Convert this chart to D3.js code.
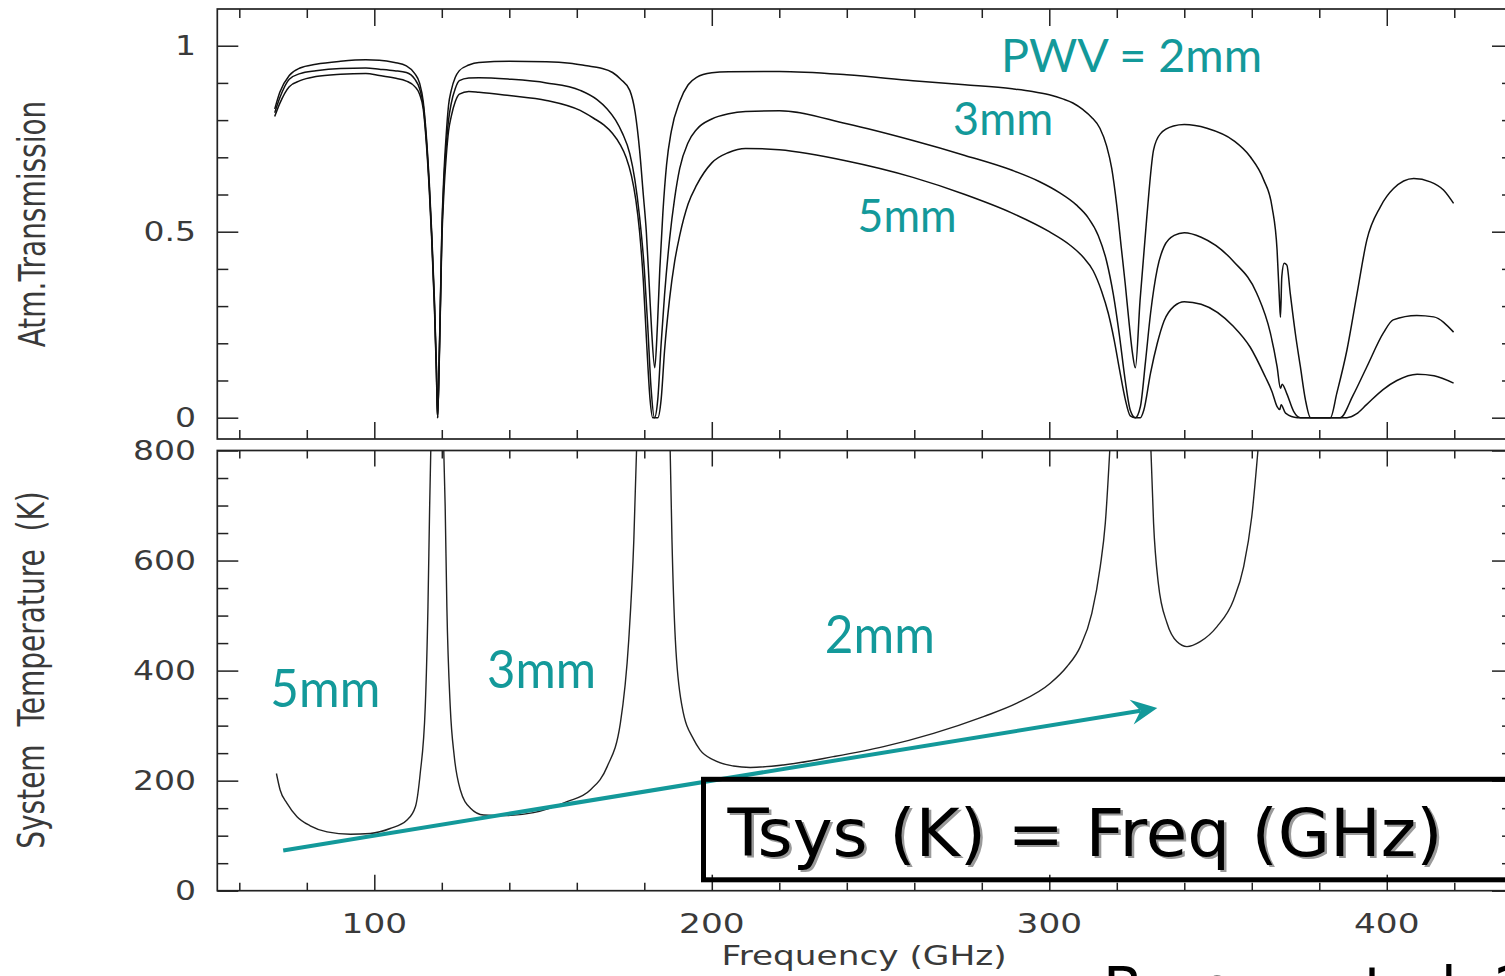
<!DOCTYPE html>
<html><head><meta charset="utf-8">
<script src="https://cdn.jsdelivr.net/npm/d3@7/dist/d3.min.js"></script>
<style>body{margin:0;background:#fff;overflow:hidden}svg{display:block}</style>
</head><body>
<svg id="chart" width="1505" height="976"></svg>
<script>
// ---------- DATA ----------
// Atmospheric transmission, [frequency GHz, transmission]
const trans2mm = [[70.5,0.83],[72,0.875],[74.8,0.92],[78,0.94],[82.7,0.95],[90,0.958],[97.5,0.962],[101.5,0.961],[106,0.955],[109.5,0.946],[112,0.925],[113.4,0.9],[114.5,0.85],[115.4,0.76],[116.3,0.63],[117,0.5],[117.8,0.32],[118.4,0.14],[118.75,0.0],[119.2,0.15],[119.6,0.32],[120,0.5],[120.6,0.65],[121.3,0.76],[122,0.84],[122.8,0.88],[124,0.915],[125.2,0.933],[128,0.948],[131,0.955],[140,0.958],[151,0.957],[158,0.953],[163,0.946],[167,0.94],[170.6,0.928],[173,0.91],[175.7,0.88],[177.3,0.82],[178.6,0.72],[179.7,0.6],[180.6,0.5],[181.5,0.35],[182.2,0.23],[183.1,0.134],[183.9,0.25],[184.6,0.4],[185.5,0.55],[186.6,0.68],[188,0.77],[190.5,0.85],[193,0.895],[195.5,0.915],[200,0.927],[205,0.93],[220,0.931],[240,0.922],[259.6,0.906],[275,0.895],[289,0.884],[295,0.877],[300,0.868],[304,0.857],[307,0.846],[310,0.828],[312.5,0.808],[315,0.778],[317,0.73],[318.5,0.67],[320,0.57],[321.3,0.46],[322.5,0.36],[323.7,0.25],[324.7,0.17],[325.5,0.134],[326.9,0.316],[328.9,0.54],[330.9,0.72],[332.9,0.763],[336.8,0.784],[340,0.788],[346.7,0.778],[354.6,0.745],[359.5,0.702],[363.5,0.64],[366,0.567],[367.5,0.45],[368.2,0.316],[368.5,0.27],[368.9,0.38],[369.6,0.415],[370.4,0.41],[371.4,0.334],[372.9,0.227],[374.4,0.137],[375.9,0.048],[377.4,0.0],[383.3,0.0],[385.2,0.066],[388.2,0.182],[391.2,0.334],[394.1,0.478],[398.1,0.567],[402,0.616],[408,0.643],[412.9,0.634],[416.8,0.612],[419.8,0.576]];
const trans3mm = [[70.5,0.82],[72,0.86],[74.8,0.91],[78,0.925],[82.7,0.933],[90,0.939],[97.5,0.94],[101.5,0.937],[106,0.933],[109.5,0.928],[112,0.91],[113.4,0.885],[114.5,0.84],[115.4,0.75],[116.3,0.62],[117,0.49],[117.8,0.31],[118.4,0.13],[118.75,0.0],[119.2,0.14],[119.6,0.31],[120,0.49],[120.6,0.63],[121.3,0.73],[122,0.8],[122.8,0.845],[124,0.885],[125.2,0.906],[128,0.913],[131,0.914],[140,0.91],[151,0.9],[161,0.88],[166,0.855],[169,0.83],[171.5,0.8],[173.5,0.765],[175.7,0.71],[177.2,0.64],[178.6,0.54],[180,0.4],[181,0.25],[182,0.08],[183,0.0],[184,0.05],[185,0.2],[186,0.33],[187.5,0.48],[189,0.59],[190.5,0.67],[193,0.74],[195.5,0.775],[200,0.803],[205,0.817],[210,0.823],[220,0.825],[240,0.79],[259.6,0.745],[275,0.705],[289,0.665],[297,0.635],[303,0.605],[308,0.572],[311.5,0.538],[314.5,0.49],[317,0.42],[319,0.33],[320.8,0.22],[322.5,0.1],[324,0.02],[325.5,0.0],[327,0.03],[328.5,0.15],[330,0.28],[332,0.4],[334,0.46],[337,0.49],[340,0.497],[345,0.485],[354.6,0.42],[361.5,0.334],[365.5,0.228],[367.5,0.137],[368.5,0.079],[369,0.09],[370.4,0.064],[372.4,0.017],[374.4,0.0],[386.2,0.0],[390,0.06],[394.1,0.137],[399,0.228],[401.9,0.263],[408.9,0.275],[413.9,0.271],[419.8,0.23]];
const trans5mm = [[70.5,0.81],[72,0.845],[74.8,0.89],[78,0.906],[82.7,0.917],[90,0.923],[97.5,0.925],[101.5,0.92],[106,0.913],[109.5,0.905],[112,0.89],[113.4,0.87],[114.5,0.83],[115.4,0.74],[116.3,0.61],[117,0.48],[117.8,0.3],[118.4,0.12],[118.75,0.0],[119.2,0.13],[119.6,0.3],[120,0.47],[120.6,0.6],[121.3,0.7],[122,0.77],[122.8,0.81],[124,0.85],[125.2,0.87],[128,0.877],[131,0.875],[140,0.866],[151,0.853],[161,0.826],[165,0.805],[168,0.787],[170.6,0.764],[172.8,0.735],[174.6,0.7],[176.2,0.65],[177.5,0.585],[178.6,0.5],[179.7,0.37],[180.7,0.2],[181.7,0.05],[182.5,0.0],[184,0.0],[185,0.05],[186,0.18],[187.5,0.32],[189,0.42],[190.5,0.49],[193,0.575],[195.5,0.625],[200,0.685],[205,0.713],[210,0.724],[220,0.72],[240,0.69],[259.6,0.646],[275,0.6],[289,0.55],[300,0.5],[306,0.465],[310,0.432],[313,0.395],[315.5,0.34],[317.5,0.28],[319.2,0.21],[320.8,0.13],[322.5,0.05],[324,0.005],[325.5,0.0],[327,0.0],[328,0.02],[330,0.12],[332,0.2],[334,0.26],[337,0.3],[340,0.312],[345,0.305],[354.6,0.245],[359.5,0.19],[364,0.11],[366,0.07],[367.5,0.03],[368.3,0.022],[368.7,0.035],[370,0.012],[373.5,0.0],[388.2,0.0],[391,0.01],[394,0.035],[398.8,0.075],[403,0.1],[409,0.117],[414,0.113],[419.8,0.093]];

// System temperature, [frequency GHz, Tsys K]; null = gap (off scale)
const tsys = [[71.0,213],[72.1,183],[74.1,159],[77.1,134.5],[81.0,118],[86.0,107],[92.9,102.5],[98.8,104],[104.7,113],[109.7,128.5],[112.2,153],[113.6,213],[115.1,334.5],[115.9,516],[116.4,698],[116.8,820],null,
  [120.5,820],[121.0,698],[121.5,516],[122.5,334.5],[123.7,243.6],[125.5,183],[128.5,150],[132.4,137.6],[138.4,136.4],[147.2,141.8],[157.1,161.8],[164.0,183],[169.0,225.5],[172.9,304],[175.4,456],[176.9,637.6],[177.8,820],null,
  [187.6,820],[188.2,638],[189.2,456],[191.2,334.5],[194.7,274],[196.5,256],[200.5,237.6],[206.4,226.7],[211.4,224],[221.2,228.5],[236.0,243.6],[250.9,261.8],[265.7,286],[280.5,316.4],[290.4,340.7],[300.3,377],[305.2,407],[309.2,443.6],[312.6,504],[315.1,589],[316.6,668],[318.1,820],null,
  [330.0,820],[330.9,668],[332.3,559],[334.9,486],[337.8,452.7],[340.8,443.6],[344.7,452.7],[349.7,480],[354.6,528.5],[357.6,589],[360.0,680],[362.1,820]];

// Tsys = Freq reference line (arrow), [GHz, K]
const ruleLine = [[73,73],[332,332]];

// Axis ticks and labels
const xMajorTicks = [100,200,300,400];
const xMajorLabels = ["100","200","300","400"];
const xMinorTicks = [60,80,120,140,160,180,220,240,260,280,320,340,360,380,420];
const yTopMajorTicks = [0,0.5,1];
const yTopMajorLabels = ["0","0.5","1"];
const yTopMinorTicks = [0.1,0.2,0.3,0.4,0.6,0.7,0.8,0.9];
const yBotMajorTicks = [0,200,400,600,800];
const yBotMajorLabels = ["0","200","400","600","800"];
const yBotMinorTicks = [50,100,150,250,300,350,450,500,550,650,700,750];

// Annotation texts
const pwvLabelsTop = [
  {t:"PWV = 2mm", f:285.7, v:0.93, w:261},
  {t:"3mm", f:271.5, v:0.76, w:100},
  {t:"5mm", f:243.2, v:0.50, w:99}
];
const pwvLabelsBot = [
  {t:"5mm", f:69.2, T:334, w:110},
  {t:"3mm", f:133.4, T:368, w:109},
  {t:"2mm", f:233.5, T:432, w:110}
];
const ruleText = "Tsys (K) = Freq (GHz)";
const creditText = "Brogan et al. 2009";

// ---------- LAYOUT ----------
const svg = d3.select("#chart");
const L = 217.3, R = 1513;
const x = d3.scaleLinear().domain([53.48, 437.4]).range([L, R]);
const yTop = d3.scaleLinear().domain([-0.0573, 1.0987]).range([439, 9]);
const yBot = d3.scaleLinear().domain([0, 800]).range([890.7, 450.5]);
const SX = 1.27; // horizontal stretch of the original figure text
const frameColor = "#222", labelColor = "#3a3a3a", teal = "#13999a";

const defs = svg.append("defs");
defs.append("clipPath").attr("id","clipTop").append("rect")
  .attr("x",L).attr("y",yTop.range()[1]).attr("width",R-L).attr("height",yTop.range()[0]-yTop.range()[1]);
defs.append("clipPath").attr("id","clipBot").append("rect")
  .attr("x",L).attr("y",yBot.range()[1]).attr("width",R-L).attr("height",yBot.range()[0]-yBot.range()[1]);

function frame(ys){
  svg.append("rect").attr("x",L).attr("y",ys.range()[1]).attr("width",R-L)
    .attr("height",ys.range()[0]-ys.range()[1]).attr("fill","none")
    .attr("stroke",frameColor).attr("stroke-width",1.7);
}
function tickSet(axisFn, scale, vals, size, tx, ty){
  const g = svg.append("g").attr("transform",`translate(${tx},${ty})`)
    .call(axisFn(scale).tickValues(vals).tickSize(-size).tickSizeOuter(0).tickFormat(""));
  g.select(".domain").remove();
  g.selectAll("line").attr("stroke",frameColor).attr("stroke-width",1.5);
}
function panelTicks(ys, xMajSize, xMinSize){
  const [yb, yt] = ys.range();
  tickSet(d3.axisBottom, x, xMajorTicks, xMajSize, 0, yb);
  tickSet(d3.axisBottom, x, xMinorTicks, xMinSize, 0, yb);
  tickSet(d3.axisTop, x, xMajorTicks, xMajSize, 0, yt);
  tickSet(d3.axisTop, x, xMinorTicks, xMinSize, 0, yt);
}
frame(yTop); frame(yBot);
panelTicks(yTop, 17, 9);
panelTicks(yBot, 16, 8);
tickSet(d3.axisLeft, yTop, yTopMajorTicks, 21, L, 0);
tickSet(d3.axisLeft, yTop, yTopMinorTicks, 11, L, 0);
tickSet(d3.axisRight, yTop, yTopMajorTicks, 21, R, 0);
tickSet(d3.axisRight, yTop, yTopMinorTicks, 11, R, 0);
tickSet(d3.axisLeft, yBot, yBotMajorTicks, 21, L, 0);
tickSet(d3.axisLeft, yBot, yBotMinorTicks, 11, L, 0);
tickSet(d3.axisRight, yBot, yBotMajorTicks, 21, R, 0);
tickSet(d3.axisRight, yBot, yBotMinorTicks, 11, R, 0);

// tick labels
function stretchedText(px, py, txt, size, anchor){
  svg.append("text").attr("transform",`translate(${px},${py}) scale(${SX},1)`)
    .attr("text-anchor",anchor).attr("font-family","DejaVu Sans").attr("font-size",size)
    .attr("fill",labelColor).text(txt);
}
yTopMajorTicks.forEach((v,i)=> stretchedText(196, yTop(v)+9.5, yTopMajorLabels[i], 26, "end"));
yBotMajorTicks.forEach((v,i)=> stretchedText(196, yBot(v)+9.5, yBotMajorLabels[i], 26, "end"));
xMajorTicks.forEach((v,i)=> stretchedText(x(v), 933, xMajorLabels[i], 27, "middle"));
stretchedText(864, 965, "Frequency (GHz)", 27, "middle");

function rotatedTitle(px, py, txt){
  svg.append("text").attr("transform",`translate(${px},${py}) scale(1.3,1) rotate(-90)`)
    .attr("text-anchor","middle").attr("font-family","DejaVu Sans").attr("font-size",28)
    .attr("fill",labelColor).text(txt);
}
rotatedTitle(45, 224, "Atm.Transmission");
rotatedTitle(44, 670, "System\u00a0\u00a0Temperature\u00a0\u00a0(K)");

// curves
const lineTop = d3.line().x(d=>x(d[0])).y(d=>yTop(d[1])).curve(d3.curveMonotoneX);
const gTop = svg.append("g").attr("clip-path","url(#clipTop)");
[trans2mm, trans3mm, trans5mm].forEach(s=>{
  gTop.append("path").attr("d",lineTop(s)).attr("fill","none")
    .attr("stroke","#111").attr("stroke-width",1.5).attr("stroke-linejoin","round");
});
const lineBot = d3.line().defined(d=>d!==null).x(d=>x(d[0])).y(d=>yBot(d[1])).curve(d3.curveMonotoneX);
svg.append("g").attr("clip-path","url(#clipBot)").append("path").attr("d",lineBot(tsys))
  .attr("fill","none").attr("stroke","#222").attr("stroke-width",1.4);

// teal labels
pwvLabelsTop.forEach(d=>{
  svg.append("text").attr("x",x(d.f)).attr("y",yTop(d.v)).attr("font-family","Lato")
    .attr("font-size",47).attr("fill",teal).attr("textLength",d.w)
    .attr("lengthAdjust","spacingAndGlyphs").text(d.t);
});
pwvLabelsBot.forEach(d=>{
  svg.append("text").attr("x",x(d.f)).attr("y",yBot(d.T)).attr("font-family","Lato")
    .attr("font-size",53).attr("fill",teal).attr("textLength",d.w)
    .attr("lengthAdjust","spacingAndGlyphs").text(d.t);
});

// Tsys = Freq arrow
const p0 = [x(ruleLine[0][0]), yBot(ruleLine[0][1])];
const p1 = [x(ruleLine[1][0]), yBot(ruleLine[1][1])];
const len = Math.hypot(p1[0]-p0[0], p1[1]-p0[1]);
const u = [(p1[0]-p0[0])/len, (p1[1]-p0[1])/len], n = [-u[1], u[0]];
const HL = 26, HW = 12.5, NOTCH = 17;
const notch = [p1[0]-NOTCH*u[0], p1[1]-NOTCH*u[1]];
svg.append("line").attr("x1",p0[0]).attr("y1",p0[1]).attr("x2",notch[0]).attr("y2",notch[1])
  .attr("stroke",teal).attr("stroke-width",4);
svg.append("path").attr("d", d3.line()([
  p1,
  [p1[0]-HL*u[0]+HW*n[0], p1[1]-HL*u[1]+HW*n[1]],
  notch,
  [p1[0]-HL*u[0]-HW*n[0], p1[1]-HL*u[1]-HW*n[1]]
]) + "Z").attr("fill",teal);

// rule box
svg.append("rect").attr("x",703.5).attr("y",779.3).attr("width",830).attr("height",100.5)
  .attr("fill","none").attr("stroke","#000").attr("stroke-width",5);
svg.append("text").attr("x",730).attr("y",858).attr("font-family","DejaVu Sans").attr("font-size",65)
  .attr("fill","#9a9a9a").attr("textLength",715).attr("lengthAdjust","spacingAndGlyphs").text(ruleText);
svg.append("text").attr("x",727.5).attr("y",855.5).attr("font-family","DejaVu Sans").attr("font-size",65)
  .attr("fill","#000").attr("textLength",715).attr("lengthAdjust","spacingAndGlyphs").text(ruleText);

// credit (cut off at the bottom edge, as in the reference)
svg.append("text").attr("x",1103).attr("y",1009).attr("font-family","DejaVu Sans").attr("font-size",58)
  .attr("fill","#000").text(creditText);
</script>
</body></html>
